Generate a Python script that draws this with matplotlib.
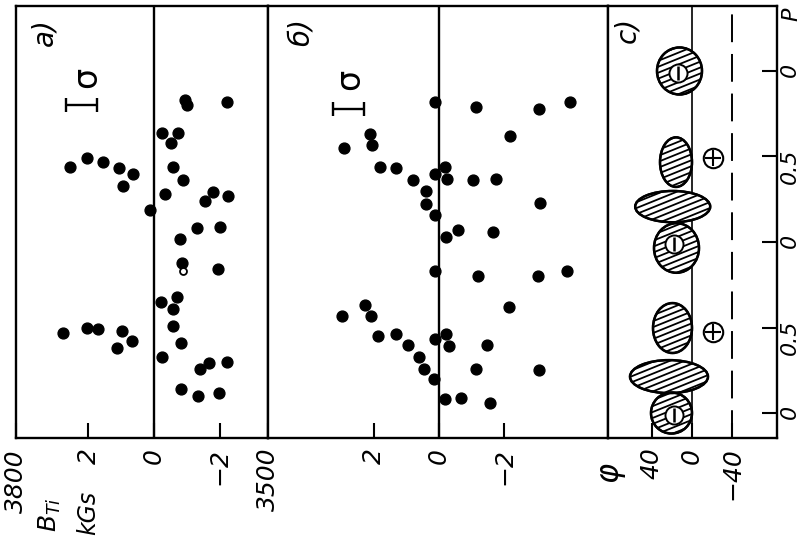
import matplotlib
matplotlib.use("Agg")
import matplotlib.pyplot as plt
import numpy as np
from matplotlib.patches import Ellipse

plt.rcParams['font.family'] = ['DejaVu Sans']
plt.rcParams['font.style'] = 'italic'
plt.rcParams['mathtext.default'] = 'it'

# ---------------- data ----------------
# phase axis
P_ticks = [0, 0.5, 1, 1.5, 2]
P_labels = ["0", "0.5", "0", "0.5", "0"]

# panel a: B_Ti (kGs) vs phase P
a_B = [-2.22, -0.95, -1.00, -0.25, -0.74, -0.51, 2.56, 2.04, 1.55, 1.06, 0.63, 0.96,
       -0.59, -0.90, -0.34, -1.81, -1.56, -2.25, 0.12, -1.32, -2.02, -0.79, -0.85, -1.96,
       -0.23, -0.71, -0.59, -0.57, 2.77, 2.04, 1.70, 0.99, 0.68, 1.14, -0.84, -0.25,
       -1.40, -1.68, -2.22, -0.84, -1.35, -1.99]
a_P = [1.817, 1.83, 1.80, 1.64, 1.64, 1.58, 1.44, 1.49, 1.47, 1.43, 1.40, 1.33,
       1.44, 1.36, 1.28, 1.29, 1.24, 1.27, 1.19, 1.08, 1.09, 1.02, 0.88, 0.84,
       0.65, 0.68, 0.61, 0.51, 0.47, 0.50, 0.49, 0.48, 0.42, 0.38, 0.41, 0.33,
       0.26, 0.29, 0.30, 0.14, 0.10, 0.12]
a_open_B = [-0.88]
a_open_P = [0.83]
a_ticks = [4.21, 2, 0, -2, -3.48]
a_tick_labels = ["3800", "2", "0", "\u22122", "3500"]

# panel b
b_B = [0.12, -1.13, -3.07, -4.04, 2.11, 2.06, 2.91, -2.18, 1.82, 1.32, 0.81, 0.41,
       0.41, 0.12, 0.12, -0.17, -0.25, -1.04, -1.75, -3.12, -0.59, -0.22, -1.67,
       0.12, -1.19, -3.06, -3.94,
       2.28, 2.08, 2.98, -2.16, 1.87, 1.32, 0.96, 0.61, 0.46, 0.15, 0.13, -0.23,
       -0.30, -1.47, -1.13, -3.09, -0.20, -0.68, -1.57]
b_P = [1.817, 1.79, 1.78, 1.82, 1.63, 1.57, 1.55, 1.62, 1.44, 1.43, 1.36, 1.30,
       1.22, 1.16, 1.40, 1.44, 1.37, 1.36, 1.37, 1.23, 1.07, 1.03, 1.06,
       0.83, 0.80, 0.80, 0.83,
       0.63, 0.57, 0.57, 0.62, 0.45, 0.46, 0.40, 0.33, 0.26, 0.20, 0.43, 0.46,
       0.39, 0.40, 0.26, 0.25, 0.08, 0.09, 0.06]
b_ticks = [2, 0, -2]
b_tick_labels = ["2", "0", "\u22122"]

# error bar (sigma) markers in a) and b)
sig_B = [2.21, 2.78]
sig_P = [1.80, 1.78]
sig_half = 0.47
sigma_txt_B = [2.05, 2.76]
sigma_txt_P = [1.96, 1.95]

# panel c: phase regions (phi in degrees)
blob_phi = [12.5, 16.0, 19.3, 15.5, 19.5, 23.0, 20.5]
blob_P = [2.00, 1.467, 1.207, 0.965, 0.497, 0.213, 0.00]
blob_w = [45, 32, 75, 45, 39, 78, 41]
blob_h = [0.275, 0.29, 0.183, 0.29, 0.292, 0.193, 0.24]
minus_phi = [14.5, 18.0, 18.0]
minus_P = [1.99, 0.99, -0.01]
plus_phi = [-21.0, -20.5]
plus_P = [1.49, 0.474]
c_ticks = [40, 0, -40]
c_tick_labels = ["40", "0", "\u221240"]
dash_phi = -40

# ---------------- figure ----------------
W, H = 808, 549
fig = plt.figure(figsize=(W / 100, H / 100), dpi=100)


def rect(x0, x1, y0, y1):
    return [x0 / W, 1 - y1 / H, (x1 - x0) / W, (y1 - y0) / H]


axA = fig.add_axes(rect(16, 268, 6, 438))
axB = fig.add_axes(rect(268, 608, 6, 438))
axC = fig.add_axes(rect(608, 777, 6, 438))

P_lim = (-0.146, 2.38)
axA.set_xlim(4.21, -3.48)
axB.set_xlim(5.26, -5.20)
axC.set_xlim(84, -85)

for ax in (axA, axB, axC):
    ax.set_ylim(*P_lim)
    for s in ax.spines.values():
        s.set_linewidth(1.7)
    ax.set_yticks([])
    ax.tick_params(axis='x', direction='in', length=11, width=1.5, labelsize=18,
                   pad=7, labelrotation=90)

axA.set_xticks(a_ticks, a_tick_labels)
axB.set_xticks(b_ticks, b_tick_labels)
axC.set_xticks(c_ticks, c_tick_labels)

axC.yaxis.tick_right()
axC.set_yticks(P_ticks, P_labels)
axC.tick_params(axis='y', right=True, left=False, direction='in', length=11,
                width=1.5, labelsize=16, pad=2, labelrotation=90)

# zero lines
axA.axvline(0, color='black', lw=1.7, zorder=1)
axB.axvline(0, color='black', lw=1.7, zorder=1)
axC.axvline(0, color='black', lw=1.2, zorder=1)
lw_d = 1.4
axC.axvline(dash_phi, color='black', lw=lw_d, zorder=1,
            linestyle=(0, (20 / lw_d, 8.5 / lw_d)))

# points
axA.plot(a_B, a_P, 'o', ms=7.8, color='black', zorder=3)
axA.plot(a_open_B, a_open_P, 'o', ms=5, mfc='white', mec='black', mew=1.3, zorder=4)
axB.plot(b_B, b_P, 'o', ms=7.8, color='black', zorder=3)

for ax, xb, yp, tx, ty in zip((axA, axB), sig_B, sig_P, sigma_txt_B, sigma_txt_P):
    ax.errorbar([xb], [yp], xerr=[sig_half], fmt='none', ecolor='black',
                elinewidth=1.7, capsize=5, capthick=1.7)
    ax.text(tx, ty, "\u03c3", rotation=90, fontsize=24, ha='center', va='center',
            fontstyle='normal')

# panel labels
axA.text(3.33, 2.23, "a)", rotation=90, fontsize=20, ha='center', va='center')
axB.text(4.25, 2.23, "\u0431)", rotation=90, fontsize=20, ha='center', va='center')
axC.text(65, 2.24, "c)", rotation=90, fontsize=20, ha='center', va='center')


# hatched phase regions
def hatched_ellipse(ax, cx, cy, w, h, angle_deg=22, spacing=5.5):
    e = Ellipse((cx, cy), w, h, facecolor='white', edgecolor='black', lw=1.6, zorder=5)
    ax.add_patch(e)
    T = ax.transData
    inv = T.inverted()
    c = T.transform((cx, cy))
    p1 = T.transform((cx - w / 2, cy - h / 2))
    p2 = T.transform((cx + w / 2, cy + h / 2))
    R = np.hypot(p2[0] - p1[0], p2[1] - p1[1])
    a = np.deg2rad(angle_deg)
    d = np.array([np.cos(a), np.sin(a)])
    n = np.array([-np.sin(a), np.cos(a)])
    for s in np.arange(-R, R, spacing):
        q0 = c + s * n - R * d
        q1 = c + s * n + R * d
        dq = inv.transform([q0, q1])
        ln, = ax.plot(dq[:, 0], dq[:, 1], color='black', lw=1.3, zorder=6)
        ln.set_clip_path(e)
    e2 = Ellipse((cx, cy), w, h, facecolor='none', edgecolor='black', lw=1.8, zorder=7)
    ax.add_patch(e2)


for cx, cy, w, h in zip(blob_phi, blob_P, blob_w, blob_h):
    hatched_ellipse(axC, cx, cy, w, h)

axC.plot(minus_phi, minus_P, 'o', ms=13, mfc='white', mec='black', mew=1.4, zorder=8)
axC.plot(minus_phi, minus_P, '|', ms=10, mec='black', mew=1.8, zorder=9)
axC.plot(plus_phi, plus_P, 'o', ms=14, mfc='white', mec='black', mew=1.5, zorder=8)
axC.plot(plus_phi, plus_P, '+', ms=12, mec='black', mew=1.5, zorder=9)

# axis annotations
fig.text(16 / W, 1 - 481 / H, "3800", rotation=90, fontsize=18, ha='center', va='center')
fig.text(50 / W, 1 - 515 / H, r"$B_{Ti}$", rotation=90, fontsize=18, ha='center', va='center')
fig.text(88 / W, 1 - 513 / H, "kGs", rotation=90, fontsize=17, ha='center', va='center')
fig.text(610 / W, 1 - 472 / H, "\u03c6", rotation=90, fontsize=22, ha='center', va='center')
fig.text(791 / W, 1 - 14 / H, "P", rotation=90, fontsize=16, ha='center', va='center')

# the 3800 label is drawn separately (lower, beside B_Ti)
axA.get_xticklabels()[0].set_visible(False)

fig.savefig("out.png", dpi=100)
